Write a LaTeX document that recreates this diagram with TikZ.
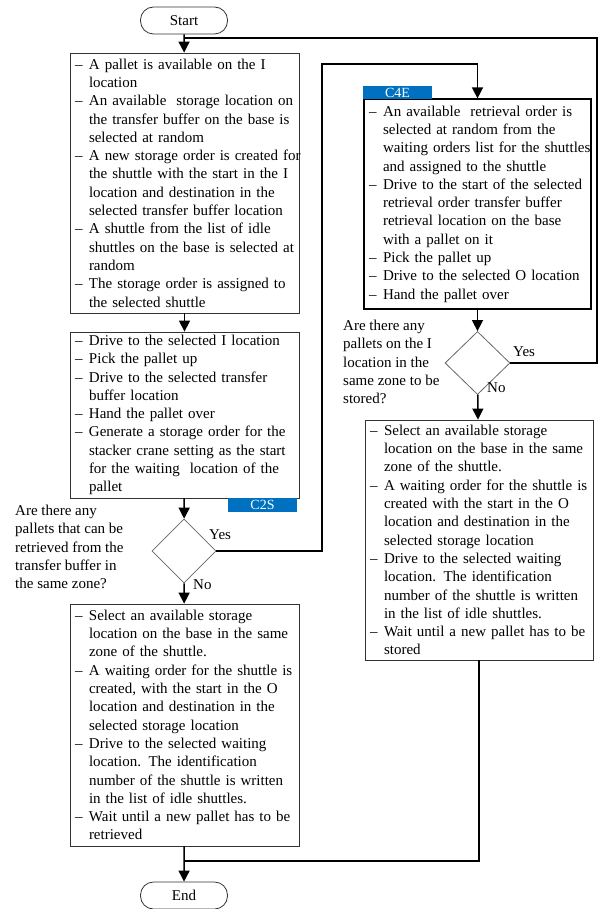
\documentclass[tikz,border=0pt]{standalone}
\usepackage{fontspec}
\setmainfont{Liberation Serif}
\usetikzlibrary{shapes.geometric,arrows.meta}
\definecolor{tagblue}{RGB}{0,112,192}
\newcommand{\itm}[1]{\hbox{\hbox to 14pt{–\hfil}#1}}
\newcommand{\cnt}[1]{\hbox{\hskip 14pt#1}}

\begin{document}
\begin{tikzpicture}[x=1pt,y=-1pt,
  font=\fontsize{15}{18.3}\selectfont,
  box/.style={draw=black!80, line width=0.8pt, text width=219pt, inner xsep=5pt, inner ysep=0pt, align=left},
  term/.style={draw=black!80, line width=0.8pt, rounded corners=13pt, minimum width=87pt, minimum height=27pt, inner sep=0pt},
  cond/.style={diamond, draw=black!60, line width=0.8pt, minimum width=64pt, minimum height=64pt, inner sep=0pt},
  tag/.style={fill=tagblue, text=white, font=\fontsize{14}{14}\selectfont, minimum width=69pt, minimum height=14pt, inner sep=0pt},
  flow/.style={line width=1.5pt, -{Triangle[width=11pt,length=11pt]}},
  link/.style={line width=1.5pt}]
  \useasboundingbox (0,0) rectangle (598,909);

  \node[term] (start) at (184,20.5) {Start};
  \node[box, minimum height=260pt] (b1) at (184.5,183) {\vbox{
    \itm{A pallet is available on the I}
    \cnt{location}
    \itm{An available\ \ storage location on}
    \cnt{the transfer buffer on the base is}
    \cnt{selected at random}
    \itm{A new storage order is created for}
    \cnt{the shuttle with the start in the I}
    \cnt{location and destination in the}
    \cnt{selected transfer buffer location}
    \itm{A shuttle from the list of idle}
    \cnt{shuttles on the base is selected at}
    \cnt{random}
    \itm{The storage order is assigned to}
    \cnt{the selected shuttle}}};
  \node[box, minimum height=166pt] (b2) at (184.5,415) {\vbox{
    \itm{Drive to the selected I location}
    \itm{Pick the pallet up}
    \itm{Drive to the selected transfer}
    \cnt{buffer location}
    \itm{Hand the pallet over}
    \itm{Generate a storage order for the}
    \cnt{stacker crane setting as the start}
    \cnt{for the waiting\ \ location of the}
    \cnt{pallet}}};
  \node[tag] (c2s) at (262.5,505) {C2S};
  \node[cond] (d1) at (184,551) {};
  \node[anchor=west, align=left, inner sep=0pt] (q1) at (15,547) {Are there any\\pallets that can be\\retrieved from the\\transfer buffer in\\the same zone?};
  \node[anchor=west, inner sep=0pt] (yes1) at (209,535) {Yes};
  \node[anchor=west, inner sep=0pt] (no1) at (193,585) {No};
  \node[box, minimum height=242pt] (b4) at (184.5,725) {\vbox{
    \itm{Select an available storage}
    \cnt{location on the base in the same}
    \cnt{zone of the shuttle.}
    \itm{A waiting order for the shuttle is}
    \cnt{created, with the start in the O}
    \cnt{location and destination in the}
    \cnt{selected storage location}
    \itm{Drive to the selected waiting}
    \cnt{location. The identification}
    \cnt{number of the shuttle is written}
    \cnt{in the list of idle shuttles.}
    \itm{Wait until a new pallet has to be}
    \cnt{retrieved}}};
  \node[term] (end) at (184,895.5) {End};

  \node[box, line width=1.2pt, draw=black, text width=217pt, minimum height=210pt] (b3) at (477.5,204) {\vbox{
    \itm{An available\ \ retrieval order is}
    \cnt{selected at random from the}
    \cnt{waiting orders list for the shuttles}
    \cnt{and assigned to the shuttle}
    \itm{Drive to the start of the selected}
    \cnt{retrieval order transfer buffer}
    \cnt{retrieval location on the base}
    \cnt{with a pallet on it}
    \itm{Pick the pallet up}
    \itm{Drive to the selected O location}
    \itm{Hand the pallet over}}};
  \node[tag, minimum height=13pt] (c4e) at (397.5,92.5) {C4E};
  \node[cond, minimum height=63pt, minimum width=65pt] (d2) at (477.5,363) {};
  \node[anchor=west, align=left, inner sep=0pt] (q2) at (343,362) {Are there any\\pallets on the I\\location in the\\same zone to be\\stored?};
  \node[anchor=west, inner sep=0pt] (yes2) at (513,352) {Yes};
  \node[anchor=west, inner sep=0pt] (no2) at (487,388) {No};
  \node[box, text width=218pt, minimum height=240pt] (b5) at (479,540) {\vbox{
    \itm{Select an available storage}
    \cnt{location on the base in the same}
    \cnt{zone of the shuttle.}
    \itm{A waiting order for the shuttle is}
    \cnt{created with the start in the O}
    \cnt{location and destination in the}
    \cnt{selected storage location}
    \itm{Drive to the selected waiting}
    \cnt{location. The identification}
    \cnt{number of the shuttle is written}
    \cnt{in the list of idle shuttles.}
    \itm{Wait until a new pallet has to be}
    \cnt{stored}}};

  \coordinate (j1) at (184,38);
  \coordinate (tr) at (597,38);
  \coordinate (k1) at (322,64);
  \coordinate (j2) at (184,861);

  \draw[flow] (start) -- (b1);
  \draw[flow] (b1) -- (b2);
  \draw[flow] (b2) -- (d1);
  \draw[flow] (d1) -- (b4);
  \draw[flow] (b4) -- (end);
  \draw[flow] (d1.east) -| (k1) -| (b3.north);
  \draw[flow] (b3) -- (d2);
  \draw[flow] (d2) -- (b5);
  \draw[link] (d2.east) -| (tr) -- (j1);
  \draw[link] (b5.south) |- (j2);
\end{tikzpicture}
\end{document}
